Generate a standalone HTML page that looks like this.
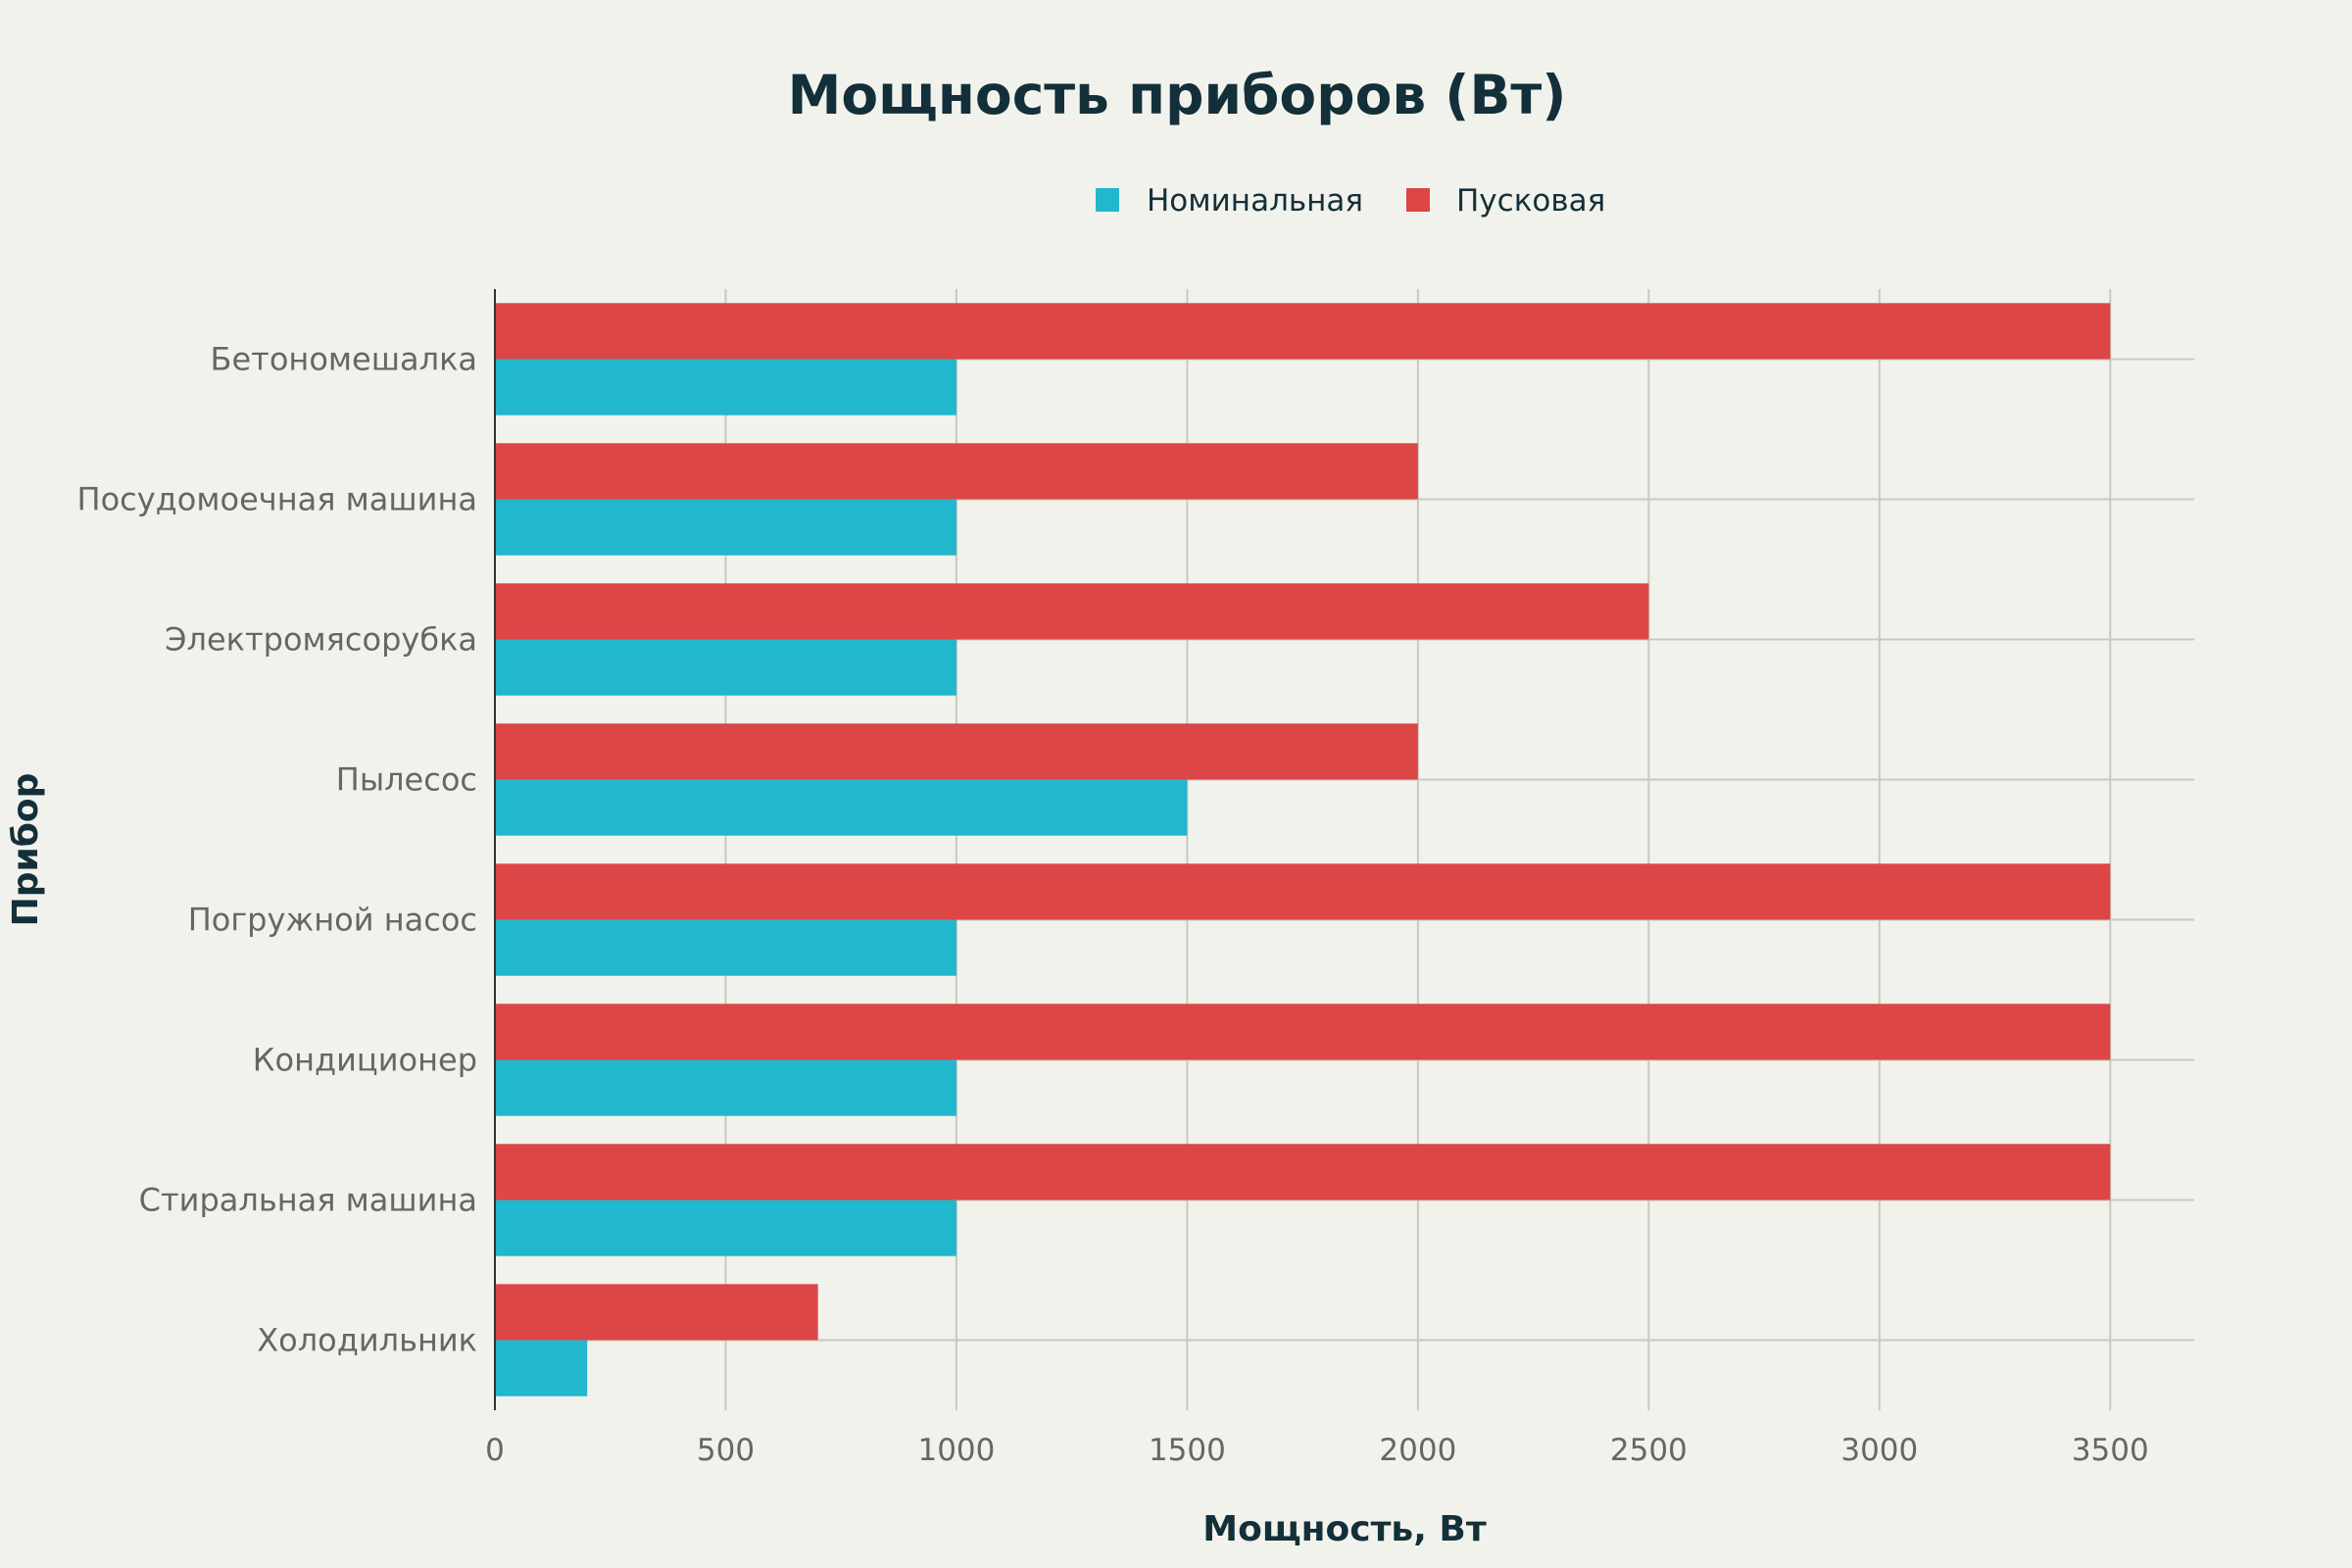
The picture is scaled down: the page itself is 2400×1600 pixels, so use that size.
<!DOCTYPE html>
<html><head><meta charset="utf-8">
<style>
html,body{margin:0;padding:0;background:#f2f2ec;}
svg{display:block;font-family:"DejaVu Sans","Liberation Sans",sans-serif;}
</style></head>
<body>
<svg id="chart" width="2400" height="1600" viewBox="0 0 2400 1600">
<rect width="2400" height="1600" fill="#f2f2ec"/>
<text x="1201" y="116" text-anchor="middle" font-size="55" font-weight="bold" fill="#13303a">Мощность приборов (Вт)</text>
<g>
<g>
<rect x="1118" y="192" width="24" height="24" fill="#21b7cc"/>
<text x="1170" y="215" font-size="31" fill="#13303a">Номинальная</text></g>
<g>
<rect x="1435" y="192" width="24" height="24" fill="#dc4646"/>
<text x="1486" y="215" font-size="31" fill="#13303a">Пусковая</text></g>
</g>
<g id="grid"></g>
<g id="bars"></g>
<g id="labels"></g>
<text x="1372" y="1572" text-anchor="middle" font-size="36" font-weight="bold" fill="#13303a">Мощность, Вт</text>
<text transform="translate(38,867) rotate(-90)" text-anchor="middle" font-size="36" font-weight="bold" fill="#13303a">Прибор</text>
</svg>
<script>
const categories = ["Бетономешалка","Посудомоечная машина","Электромясорубка","Пылесос","Погружной насос","Кондиционер","Стиральная машина","Холодильник"];
const nominal = [1000,1000,1000,1500,1000,1000,1000,200];
const starting = [3500,2000,2500,2000,3500,3500,3500,700];
const xTicks = [0,500,1000,1500,2000,2500,3000,3500];
const xMax = 3682;

const NS="http://www.w3.org/2000/svg";
const L=505, R=2239, T=295, B=1439;
const band=(B-T)/categories.length;
const xs=v=>L+(v/xMax)*(R-L);
const yc=i=>T+band*(i+0.5);
function mk(tag,attrs,parent){const e=document.createElementNS(NS,tag);for(const k in attrs)e.setAttribute(k,attrs[k]);parent.appendChild(e);return e;}
const grid=document.getElementById('grid'),bars=document.getElementById('bars'),labels=document.getElementById('labels');
xTicks.forEach(t=>{
  const g=mk('line',{x1:xs(t),x2:xs(t),y1:T,y2:B,stroke:'#c9c9c1','stroke-width':2},grid);
  
  
  const tx=mk('text',{x:xs(t),y:1490,'text-anchor':'middle','font-size':31,fill:'#666'},labels);
  tx.textContent=t;
  
  
});
categories.forEach((c,i)=>{
  const y=yc(i);
  const gl=mk('line',{x1:L,x2:R,y1:y,y2:y,stroke:'#c9c9c1','stroke-width':2},grid);
  
  
  const h=band*0.4;
  const r=mk('rect',{x:L,y:y-h,width:xs(starting[i])-L,height:h,fill:'#dc4646'},bars);
  
  
  const b=mk('rect',{x:L,y:y,width:xs(nominal[i])-L,height:h,fill:'#21b7cc'},bars);
  
  
  const tx=mk('text',{x:487,y:y+11,'text-anchor':'end','font-size':32,fill:'#666'},labels);
  tx.textContent=c;
  
  
});
const ax=mk('line',{x1:L,x2:L,y1:T,y2:B,stroke:'#333','stroke-width':2},labels);


</script>
</body></html>
